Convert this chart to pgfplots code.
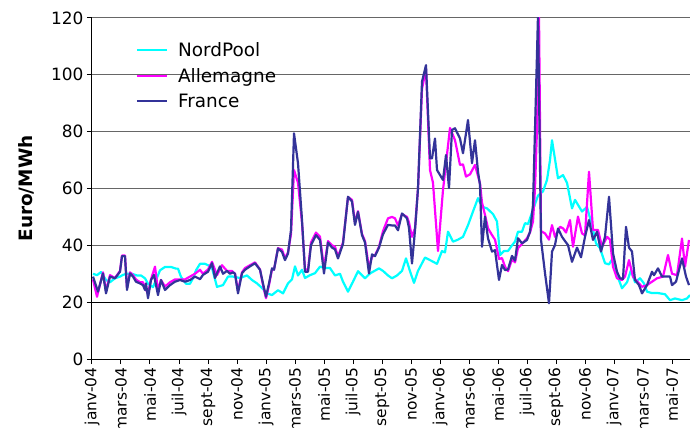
\documentclass[border=0pt]{standalone}
\usepackage{fontspec}
\setmainfont{DejaVu Sans}
\usepackage{pgfplots}
\pgfplotsset{compat=1.18}
\definecolor{nordpool}{RGB}{0,255,255}
\definecolor{allemagne}{RGB}{255,0,255}
\definecolor{france}{RGB}{51,51,153}

\begin{document}
\begin{tikzpicture}
\begin{axis}[
  scale only axis, width=598bp, height=341bp,
  xmin=0, xmax=598, ymin=0, ymax=120,
  axis x line*=bottom, axis y line*=left,
  axis line style={line width=1bp, black},
  ymajorgrids, grid style={gray!80!black, line width=1bp},
  ytick={0,20,...,120},
  xtick={0,29,...,580},
  xticklabels={janv-04,mars-04,mai-04,juil-04,sept-04,nov-04,janv-05,mars-05,mai-05,juil-05,sept-05,nov-05,janv-06,mars-06,mai-06,juil-06,sept-06,nov-06,janv-07,mars-07,mai-07},
  tick align=outside, major tick length=5bp,
  tick style={black, line width=1bp},
  /pgf/number format/assume math mode=true,
  yticklabel style={font=\fontsize{17}{19}\selectfont},
  xticklabel style={font=\fontsize{15.5}{17}\selectfont, rotate=90, anchor=east},
  ylabel={\bfseries Euro/MWh},
  ylabel style={font=\fontsize{18.5}{20}\selectfont, at={(axis description cs:-0.109,0.5)}, anchor=center},
  legend style={draw=none, fill=none, at={(0.068,0.94)}, anchor=north west, font=\fontsize{18.5}{20}\selectfont, row sep=6bp},
  legend cell align=left,
  legend image code/.code={\draw[#1, line width=2.2bp] (0bp,0bp) -- (30bp,0bp); \path (38bp,0bp);},
  every axis plot/.append style={line width=2.2bp, line join=round},
]
\draw[black, line width=1bp] (axis cs:0,20) -- (axis cs:598,20);

% NordPool
\addplot[nordpool, mark=none] coordinates {
(1,30) (5,29.5) (9,30.6) (14,27.8) (18,27) (23,28.4) (28,29) (31,29.6) (35,30) (40,30) (45,29.4) (49,29.4) (53,28.4) (56,26.5) (61,25.3) (64,27.8) (68,31.2) (73,32.4) (79,32.4) (84,31.8) (86,31.8) (89,28.9) (94,26.5) (98,26.5) (101,28.4) (104,31.2) (108,33.5) (113,33.5) (116,33) (120,32) (125,25.4) (131,26) (136,29) (141,29) (148,28.5) (155,29.4) (160,27.8) (165,26.6) (170,25) (175,23.1) (180,22.5) (186,24.2) (191,23.1) (196,26.6) (200,28) (203,32.6) (206,29.4) (210,31.4) (213,28.5) (218,29.5) (223,30.2) (228,32.5) (233,32) (238,32) (243,29.4) (248,30) (251,27.2) (256,23.7) (261,27.2) (266,30.9) (273,28.4) (278,30.1) (287,31.9) (291,31) (296,29.4) (300,28.4) (305,29.4) (310,31) (314,35.4) (318,30.9) (322,26.8) (326,31) (333,35.7) (338,34.8) (345,33.5) (350,38) (353,37.5) (356,44.8) (361,41.3) (366,42) (371,43) (376,47.1) (381,51.9) (386,56.6) (390,53.6) (395,53) (398,52) (401,51) (405,48.4) (408,36.6) (412,38) (416,38) (420,40) (423,41.3) (426,44.8) (430,44.8) (433,47.8) (436,47.5) (441,52.5) (446,57.5) (451,59) (455,63) (458,70) (460,77) (466,63.6) (471,64.7) (475,62) (480,53) (483,56) (490,51.9) (495,53.5) (500,47.1) (504,40.7) (508,39) (513,33.7) (517,33.3) (520,35) (525,29.6) (530,24.9) (535,27) (539,31.3) (543,27) (548,28.4) (552,26.6) (555,23.7) (560,23.2) (566,23.2) (573,22.8) (578,20.7) (583,21.3) (590,20.7) (595,21.3) (598,22.5)
};
\addlegendentry{NordPool}

% Allemagne
\addplot[allemagne, mark=none] coordinates {
(1,28) (5,21.9) (11,30.5) (14,24) (18,29.5) (23,28.5) (28,31) (30,36.4) (33,36.4) (35,25) (38,30.5) (41,29.5) (44,28) (48,27) (51,27) (53,25) (56,23) (59,28) (63,32.5) (66,24) (69,27.8) (73,25.5) (78,27) (83,28) (88,28) (93,28) (98,29) (103,30) (108,31.4) (111,30) (116,31.5) (120,34.2) (125,29.5) (130,33) (135,31) (140,31) (143,30) (146,24) (150,30.5) (153,32) (158,33) (163,34) (168,31.5) (171,26) (174,21.4) (177,26) (180,31.5) (182,31.5) (186,39) (190,38.5) (193,35.5) (196,37.5) (199,44) (202,66.5) (206,62) (210,48) (213,31.5) (216,31.5) (219,41) (224,44.5) (228,43) (232,32) (236,41.5) (240,40) (243,39.5) (246,36) (251,41) (256,57) (260,56) (263,48) (266,52) (270,44) (273,41.5) (277,32) (280,36) (283,36.5) (287,39.5) (291,45) (296,49.5) (300,50) (303,49.5) (306,47) (310,51) (315,50) (317,48) (320,43) (323,46) (326,60) (330,95) (334,102) (338,66.5) (341,62) (346,38) (351,59.5) (358,81.3) (363,77) (368,68.3) (371,68.5) (374,64.2) (378,65) (383,68.3) (388,61.8) (390,55) (393,50.7) (396,46) (400,43.6) (403,42) (407,35.2) (410,35.5) (413,32.5) (416,30.9) (420,35) (423,34) (426,39) (430,40.5) (435,42.5) (438,44.5) (441,48.4) (443,60) (445,81) (447,121) (449,45) (453,44.2) (457,42) (460,47.1) (463,43) (468,46.5) (471,46) (474,44.5) (478,48.9) (481,39.5) (486,50.1) (490,44.2) (493,43.5) (497,65.9) (501,45.4) (506,45.4) (510,39.5) (515,43) (518,42) (521,32.5) (525,28.4) (530,27.8) (533,29) (537,34.8) (541,29) (544,27.8) (550,25.4) (555,26) (560,27.2) (565,28.4) (571,29) (576,36.6) (580,30) (585,29.5) (590,42.4) (593,32.5) (597,41.9)
};
\addlegendentry{Allemagne}

% France
\addplot[france, mark=none] coordinates {
(1,29) (6,23.7) (11,30.1) (14,23.1) (18,29) (23,28.4) (28,30.7) (30,36.2) (33,36.2) (35,24.3) (38,30.1) (41,29) (44,27.2) (48,26.6) (51,26) (53,24.3) (54,26.6) (56,21.4) (59,27.8) (62,29.6) (66,22.5) (69,27.8) (73,24.3) (78,26) (83,27.2) (88,27.8) (93,27.2) (98,27.8) (103,29) (108,28.1) (111,29.6) (116,30.7) (120,33.7) (123,28.5) (128,32.6) (131,30) (135,31) (138,30) (141,30.5) (143,30) (146,23.1) (150,30.2) (153,31.4) (158,32.6) (163,33.7) (168,31.4) (171,26.6) (174,21.9) (177,26.6) (180,31.9) (182,31.4) (186,38.9) (190,37.7) (193,34.8) (196,37.1) (199,45.4) (202,79.4) (206,68.9) (210,48.9) (213,30.7) (216,30.7) (219,40.1) (224,43.6) (228,41.9) (232,30.1) (236,41) (240,39.2) (243,38.6) (246,35.4) (251,40.5) (256,57.1) (260,55.4) (263,47.2) (266,51.8) (270,43.6) (273,41) (277,30.1) (280,36.8) (283,36.2) (287,39.2) (291,43.9) (296,47.2) (300,47) (303,47) (306,45.3) (310,51.2) (315,49.5) (317,46.1) (320,33.6) (323,45.3) (326,60) (330,97.6) (334,103.4) (338,70.6) (340,70.6) (343,77.6) (345,66.5) (351,63) (354,71.8) (357,60.2) (360,80.6) (363,81.2) (368,77.6) (371,72.4) (376,84.1) (380,68.9) (383,77) (386,65.9) (388,61.2) (390,39.5) (393,50.1) (396,42.5) (400,37.8) (403,38.3) (407,27.8) (410,33.1) (413,31.3) (416,31.5) (420,36.3) (423,34.6) (426,42.5) (430,40.7) (435,41.9) (438,44.8) (441,54.2) (444,94) (446,121) (449,42) (453,30.2) (457,19.6) (460,37.8) (463,40.1) (466,45.9) (470,43) (473,41.5) (476,40.1) (480,34.2) (485,39.2) (489,35.8) (493,43) (497,48.9) (501,41.9) (505,44.8) (509,37.8) (513,43) (517,57.1) (521,37.2) (525,30.7) (528,28.4) (531,28.2) (534,46.5) (537,39.2) (540,37.8) (543,27.8) (547,26) (550,23.1) (555,26) (560,30.7) (562,29.5) (566,31.9) (570,29) (574,29) (578,29) (580,26) (584,27.2) (590,35.4) (594,29) (597,26)
};
\addlegendentry{France}
\end{axis}
\pgfresetboundingbox
\useasboundingbox (-92bp,-69bp) rectangle (598bp,359bp);
\end{tikzpicture}
\end{document}
